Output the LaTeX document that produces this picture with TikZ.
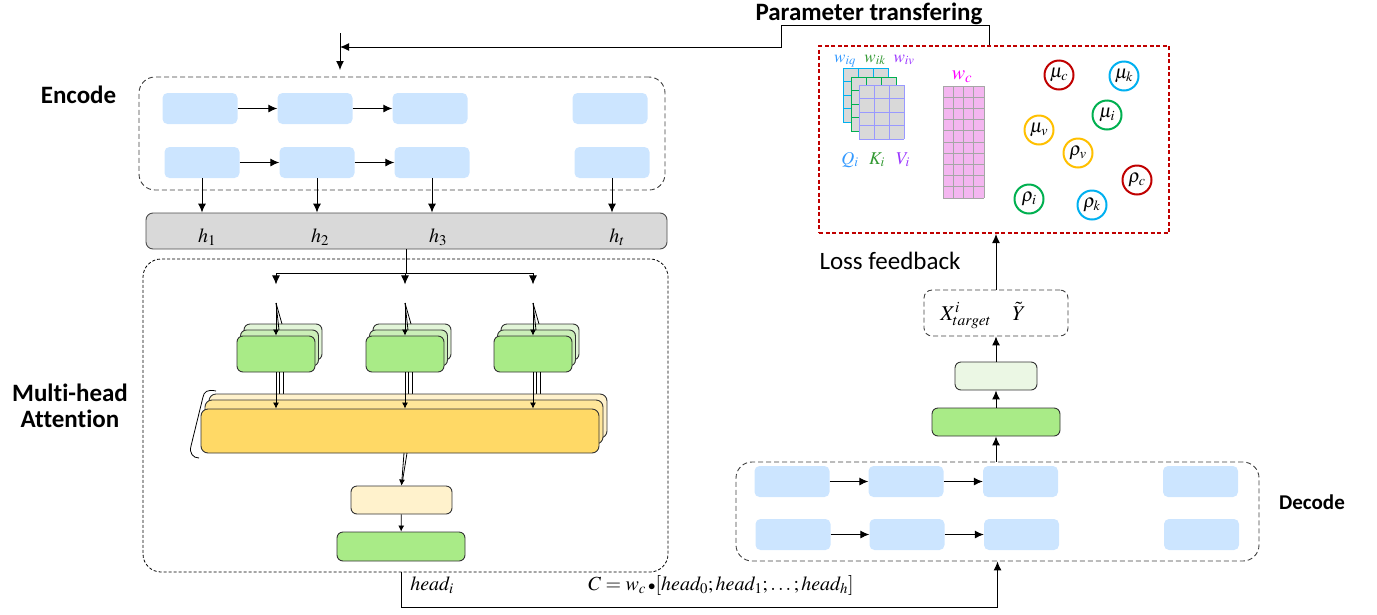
\documentclass[tikz,border=0pt]{standalone}
\usepackage{mathptmx}
\usepackage{fontspec}
\setmainfont{Carlito}[Ligatures=NoCommon]
\usepackage{tikz}
\usetikzlibrary{positioning,arrows.meta,calc}

\definecolor{cellblue}{HTML}{CCE5FF}
\definecolor{bargray}{HTML}{D9D9D9}
\definecolor{headgreen}{HTML}{A9EB87}
\definecolor{headmid}{HTML}{CBEFB8}
\definecolor{headback}{HTML}{E2F5D8}
\definecolor{outlight}{HTML}{EBF7E4}
\definecolor{yfront}{HTML}{FFD966}
\definecolor{ymid}{HTML}{FFE699}
\definecolor{yback}{HTML}{FFF2CC}
\definecolor{lossred}{HTML}{C00000}
\definecolor{ringblue}{HTML}{00B0F0}
\definecolor{ringgreen}{HTML}{00B050}
\definecolor{ringyellow}{HTML}{FFC000}
\definecolor{wqblue}{HTML}{3399FF}
\definecolor{wkgreen}{HTML}{339933}
\definecolor{wvpurple}{HTML}{9933FF}
\definecolor{gridpurple}{HTML}{9999FF}
\definecolor{wcpink}{HTML}{FF00FF}
\definecolor{cellpink}{HTML}{F4B6F0}

\tikzset{
  >={Latex[length=9pt,width=8pt]},
  flow/.style={->,line width=1pt},
  smallflow/.style={-{Latex[length=6pt,width=6pt]},line width=0.8pt},
  cell/.style={rectangle,rounded corners=5pt,fill=cellblue,minimum width=75pt,minimum height=31pt,inner sep=0pt},
  dashbox/.style={rectangle,draw=black!75,rounded corners=16pt,line width=0.9pt,dash pattern=on 5pt off 3pt,inner sep=0pt},
  headbox/.style={rectangle,draw=black!80,rounded corners=6pt,line width=0.9pt,minimum width=78pt,minimum height=36pt,inner sep=0pt},
  ybox/.style={rectangle,draw=black!80,rounded corners=7pt,line width=0.9pt,minimum width=398pt,minimum height=44pt,inner sep=0pt},
  sectionlabel/.style={font=\fontsize{25}{26}\selectfont\bfseries,anchor=base,inner sep=0pt},
  plainlabel/.style={font=\fontsize{25}{26}\selectfont,anchor=base,inner sep=0pt},
  ring/.style={circle,draw=#1,line width=2pt,fill=white,minimum size=29pt,inner sep=0pt,font=\fontsize{19}{19}\selectfont},
  mathlab/.style={font=\fontsize{20}{20}\selectfont,anchor=base,inner sep=0pt},
  smalllab/.style={font=\fontsize{17}{17}\selectfont,anchor=base,inner sep=0pt}
}

\begin{document}
\begin{tikzpicture}[x=1pt,y=-1pt]
    \useasboundingbox (0,0) rectangle (1377,614);

    % encoder
    \node[dashbox,minimum width=526pt,minimum height=113pt] (encbox) at (402,133.5) {};
    \foreach \x/\id in {200/1,315/2,430/3,610/4} {
        \node[cell] (ea\id) at (\x,108.5) {};
        \node[cell] (eb\id) at (\x+2,162.5) {};
    }
    \foreach \a/\b in {1/2,2/3} {
        \draw[flow] (ea\a) -- (ea\b);
        \draw[flow] (eb\a) -- (eb\b);
    }
    \node[sectionlabel] (enclab) at (78.5,103) {Encode};

    \node[rectangle,draw=black!70,fill=bargray,rounded corners=7pt,line width=0.9pt,minimum width=521pt,minimum height=36pt] (bar) at (406.5,231) {};
    \foreach \id in {1,2,3,4}
        \draw[flow] (eb\id.south) -- (eb\id.south |- bar.north);
    \foreach \x/\sub/\id in {207/1/1,320/2/2,438/3/3,617/t/4}
        \node[mathlab] (h\id) at (\x,242) {$h_{\sub}$};

    % parameter store
    \node[rectangle,draw=lossred,line width=2pt,dash pattern=on 4pt off 2.5pt,minimum width=350pt,minimum height=187pt] (redbox) at (994,139.5) {};
    \foreach \gx/\gy/\gc in {843/68/ringblue,851/77/ringgreen,859/85/gridpurple} {
        \fill[bargray] (\gx,\gy) rectangle ++(45,54);
        \foreach \i in {0,...,3} \draw[\gc,line width=1pt] (\gx+15*\i,\gy) -- ++(0,54);
        \foreach \j in {0,...,4} \draw[\gc,line width=1pt] (\gx,\gy+13.5*\j) -- ++(45,0);
    }
    \node[smalllab,text=wqblue] (wq) at (845,62) {$w_{iq}$};
    \node[smalllab,text=wkgreen] (wk) at (875,62) {$w_{ik}$};
    \node[smalllab,text=wvpurple] (wv) at (904,62) {$w_{iv}$};
    \node[smalllab,text=wqblue,font=\fontsize{18}{18}\selectfont] (qi) at (850,164) {$Q_i$};
    \node[smalllab,text=wkgreen,font=\fontsize{18}{18}\selectfont] (ki) at (877,164) {$K_i$};
    \node[smalllab,text=wvpurple,font=\fontsize{18}{18}\selectfont] (vi) at (903,164) {$V_i$};

    \fill[cellpink] (943,86) rectangle (984,198);
    \foreach \i in {0,...,4} \draw[black!35,line width=1pt] (943+10.25*\i,86) -- ++(0,112);
    \foreach \j in {0,...,10} \draw[black!35,line width=1pt] (943,86+11.2*\j) -- ++(41,0);
    \node[smalllab,text=wcpink,font=\fontsize{20}{20}\selectfont] (wc) at (962,79) {$w_c$};

    \foreach \x/\y/\c/\lab/\id in {1059/75/lossred/\mu_c/muc,1124/76/ringblue/\mu_k/muk,
        1107/115/ringgreen/\mu_i/mui,1039/130/ringyellow/\mu_v/muv,1078/153/ringyellow/\rho_v/rhov,
        1137/180/lossred/\rho_c/rhoc,1029/199/ringgreen/\rho_i/rhoi,1092/205/ringblue/\rho_k/rhok}
        \node[ring=\c] (\id) at (\x,\y) {$\lab$};

    % transfer back to encoder
    \coordinate (inTop) at (340,33);
    \coordinate (inJoin) at (340,47);
    \coordinate (inTip) at (340,70);
    \coordinate (ptR) at (989,25);
    \coordinate (ptL) at (781,25);
    \draw[flow] (inTop) -- (inTip);
    \draw[flow] (redbox.north -| ptR) -- (ptR) -- (ptL) |- (inJoin);
    \node[sectionlabel] (paramlab) at (869,20) {Parameter transfering};

    % multi-head attention
    \node[dashbox,draw=black,dash pattern=on 3pt off 2pt,line width=0.8pt,rounded corners=18pt,minimum width=525pt,minimum height=313pt] (mhabox) at (405.5,415.5) {};
    \node[sectionlabel,align=center,anchor=center] (mhalab) at (70,406) {Multi-head\\Attention};
    \draw[line width=1pt] (bar.south) -- ++(0,24) coordinate (split);
    \foreach \x/\id in {276/1,405/2,533/3} {
        \node[headbox,fill=headback] (hc\id) at (\x+7,342) {};
        \node[headbox,fill=headmid] (hb\id) at (\x+3.5,348) {};
        \node[headbox,fill=headgreen] (hd\id) at (\x,354) {};
        \coordinate (apex\id) at (\x,303);
        \draw[line width=0.8pt] (apex\id) -- (\x+6,324);
        \draw[line width=0.8pt] (apex\id) -- (\x+3,330);
        \draw[smallflow] (apex\id) -- (hd\id.north);
        \draw[flow] (split -| hd\id) -- ++(0,11);
        \draw[line width=0.8pt] (\x+7,372) -- (\x+7,396);
        \draw[line width=0.8pt] (\x+3.5,372) -- (\x+3.5,402);
    }
    \draw[line width=1pt] (split -| hd1) -- (split -| hd3);

    \node[ybox,fill=yback] (catback) at (408,416) {};
    \node[ybox,fill=ymid] (catmid) at (404,422) {};
    \node[ybox,fill=yfront] (catfront) at (400,431) {};
    \foreach \id in {1,2,3}
        \draw[smallflow] (hd\id.south) -- (hd\id.south |- catfront.north);
    \draw[line width=0.8pt] (216,391) .. controls (207,389) and (204,392) .. (203,397) -- (191,446) .. controls (189,453) and (193,458) .. (199,458);

    \node[rectangle,draw=black!80,fill=yback,rounded corners=6pt,line width=0.9pt,minimum width=101pt,minimum height=28pt] (lin) at (401.5,500) {};
    \draw[line width=0.8pt] (407,453) -- (402,484);
    \draw[smallflow] (404,453) -- (lin.north);
    \node[headbox,fill=headgreen,minimum width=128pt,minimum height=29pt] (mhout) at (401,546.5) {};
    \draw[smallflow] (lin) -- (mhout);

    % decoder
    \node[dashbox,minimum width=523pt,minimum height=99pt] (decbox) at (997.5,511.5) {};
    \foreach \x/\id in {792/1,906/2,1020.5/3,1200.5/4} {
        \node[cell] (da\id) at (\x,481.5) {};
        \node[cell] (db\id) at (\x+1,534.5) {};
    }
    \foreach \a/\b in {1/2,2/3} {
        \draw[flow] (da\a) -- (da\b);
        \draw[flow] (db\a) -- (db\b);
    }
    \node[sectionlabel,font=\fontsize{21}{22}\selectfont\bfseries] (declab) at (1312,509) {Decode};
    \node[headbox,fill=headgreen,minimum width=128pt,minimum height=28pt] (decgreen) at (996,422) {};
    \node[headbox,fill=outlight,minimum width=82pt,minimum height=28pt] (declight) at (996,376) {};
    \node[dashbox,rounded corners=8pt,minimum width=144pt,minimum height=46pt] (xbox) at (996,313) {};
    \node[mathlab,font=\fontsize{21}{21}\selectfont] (xlab) at (983,320) {$X^{i}_{target}\quad\tilde{Y}$};
    \draw[flow] (decgreen.south |- decbox.north) -- (decgreen);
    \draw[flow] (decgreen) -- (declight);
    \draw[flow] (declight) -- (xbox);
    \draw[flow] (xbox.north) -- (xbox.north |- redbox.south);
    \node[plainlabel] (losslab) at (890,269) {Loss feedback};

    % heads to decoder
    \draw[flow] (mhabox.south -| mhout) -- ++(0,35) -| (decbox.south);
    \node[mathlab] (headlab) at (432,590) {$head_i$};
    \node[mathlab] (clab) at (721,590) {$C = w_c\,{\scriptstyle\bullet}[head_0; head_1; \ldots; head_h]$};
\end{tikzpicture}
\end{document}
